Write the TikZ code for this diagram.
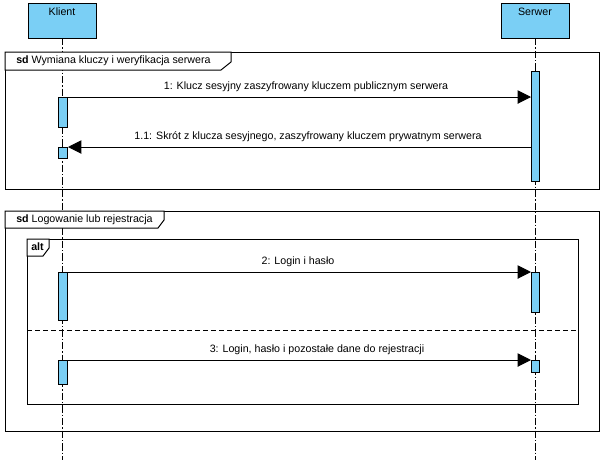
\documentclass[tikz,border=0pt]{standalone}
\usepackage{fontspec}
\setmainfont{Liberation Sans}
\usetikzlibrary{arrows.meta}
\definecolor{actblue}{RGB}{122,207,245}
\begin{document}
\begin{tikzpicture}[x=0.75pt,y=-0.75pt,
  font=\fontsize{8}{9.6}\selectfont,
  lifebox/.style={draw=black,fill=actblue,line width=0.75pt},
  actbox/.style={draw=black,fill=actblue,line width=0.75pt},
  lifeline/.style={line width=0.75pt,dash pattern=on 5.5pt off 1.5pt on 1pt off 1.5pt},
  frameline/.style={draw=black,line width=0.75pt},
  msg/.style={line width=0.75pt,-{Triangle[length=10pt,width=10pt]}},
  lbl/.style={inner sep=0pt,anchor=center}]
\useasboundingbox[fill=white] (0,0) rectangle (608,462);

% participant boxes
\draw[lifebox] (28,3) rectangle (96,38);
\node[lbl] (klient) at (62,12) {Klient};
\draw[lifebox] (501,3) rectangle (569,38);
\node[lbl] (serwer) at (535,12) {Serwer};
\coordinate (kt) at (62,38); \coordinate (kb) at (62,460);
\coordinate (st) at (535,38); \coordinate (sb) at (535,460);
\draw[lifeline] (kt) -- (kb);
\draw[lifeline] (st) -- (sb);

% frame 1
\draw[frameline] (5,52) rectangle (599,189);
\draw[frameline,fill=white] (5,52) -- (231,52) -- (231,62) -- (221,70) -- (5,70) -- cycle;
\node[anchor=west,inner sep=0pt] (f1) at (16,61) {\textbf{sd} Wymiana kluczy i weryfikacja serwera};

% frame 2
\draw[frameline] (5,211) rectangle (599,431);
\draw[frameline,fill=white] (5,211) -- (164,211) -- (164,220) -- (158,228) -- (5,228) -- cycle;
\node[anchor=west,inner sep=0pt] (f2) at (16,220) {\textbf{sd} Logowanie lub rejestracja};

% alt fragment
\draw[frameline] (27,239) rectangle (578,404);
\draw[frameline,fill=white] (27,239) -- (49,239) -- (49,248) -- (43,256) -- (27,256) -- cycle;
\node[anchor=west,inner sep=0pt] (alt) at (31,247) {\textbf{alt}};
\coordinate (sepl) at (27,330); \coordinate (sepr) at (578,330);
\draw[line width=0.75pt,dash pattern=on 4pt off 2pt] (sepl) -- (sepr);

% activations
\node[actbox,minimum width=6.75pt,minimum height=22.5pt,inner sep=0pt,anchor=north west] (ka1) at (58,97) {};
\node[actbox,minimum width=6.75pt,minimum height=8.25pt,inner sep=0pt,anchor=north west] (ka2) at (58,147) {};
\node[actbox,minimum width=6pt,minimum height=82.5pt,inner sep=0pt,anchor=north west] (sa1) at (531,71) {};
\node[actbox,minimum width=6.75pt,minimum height=36pt,inner sep=0pt,anchor=north west] (ka3) at (58,272) {};
\node[actbox,minimum width=6pt,minimum height=30pt,inner sep=0pt,anchor=north west] (sa3) at (531,272) {};
\node[actbox,minimum width=6.75pt,minimum height=18pt,inner sep=0pt,anchor=north west] (ka4) at (58,360) {};
\node[actbox,minimum width=6pt,minimum height=9pt,inner sep=0pt,anchor=north west] (sa4) at (531,360) {};

% messages
\draw[msg] (ka1.north east) -- (ka1.north east -| sa1.west);
\node[lbl] (m1) at (306,87) {1: Klucz sesyjny zaszyfrowany kluczem publicznym serwera};
\draw[msg] (ka2.north east -| sa1.west) -- (ka2.north east);
\node[lbl] (m11) at (308,137) {1.1: Skrót z klucza sesyjnego, zaszyfrowany kluczem prywatnym serwera};
\draw[msg] (ka3.north east) -- (sa3.north west);
\node[lbl] (m2) at (298,262) {2: Login i hasło};
\draw[msg] (ka4.north east) -- (sa4.north west);
\node[lbl] (m3) at (317,350) {3: Login, hasło i pozostałe dane do rejestracji};
\end{tikzpicture}
\end{document}
